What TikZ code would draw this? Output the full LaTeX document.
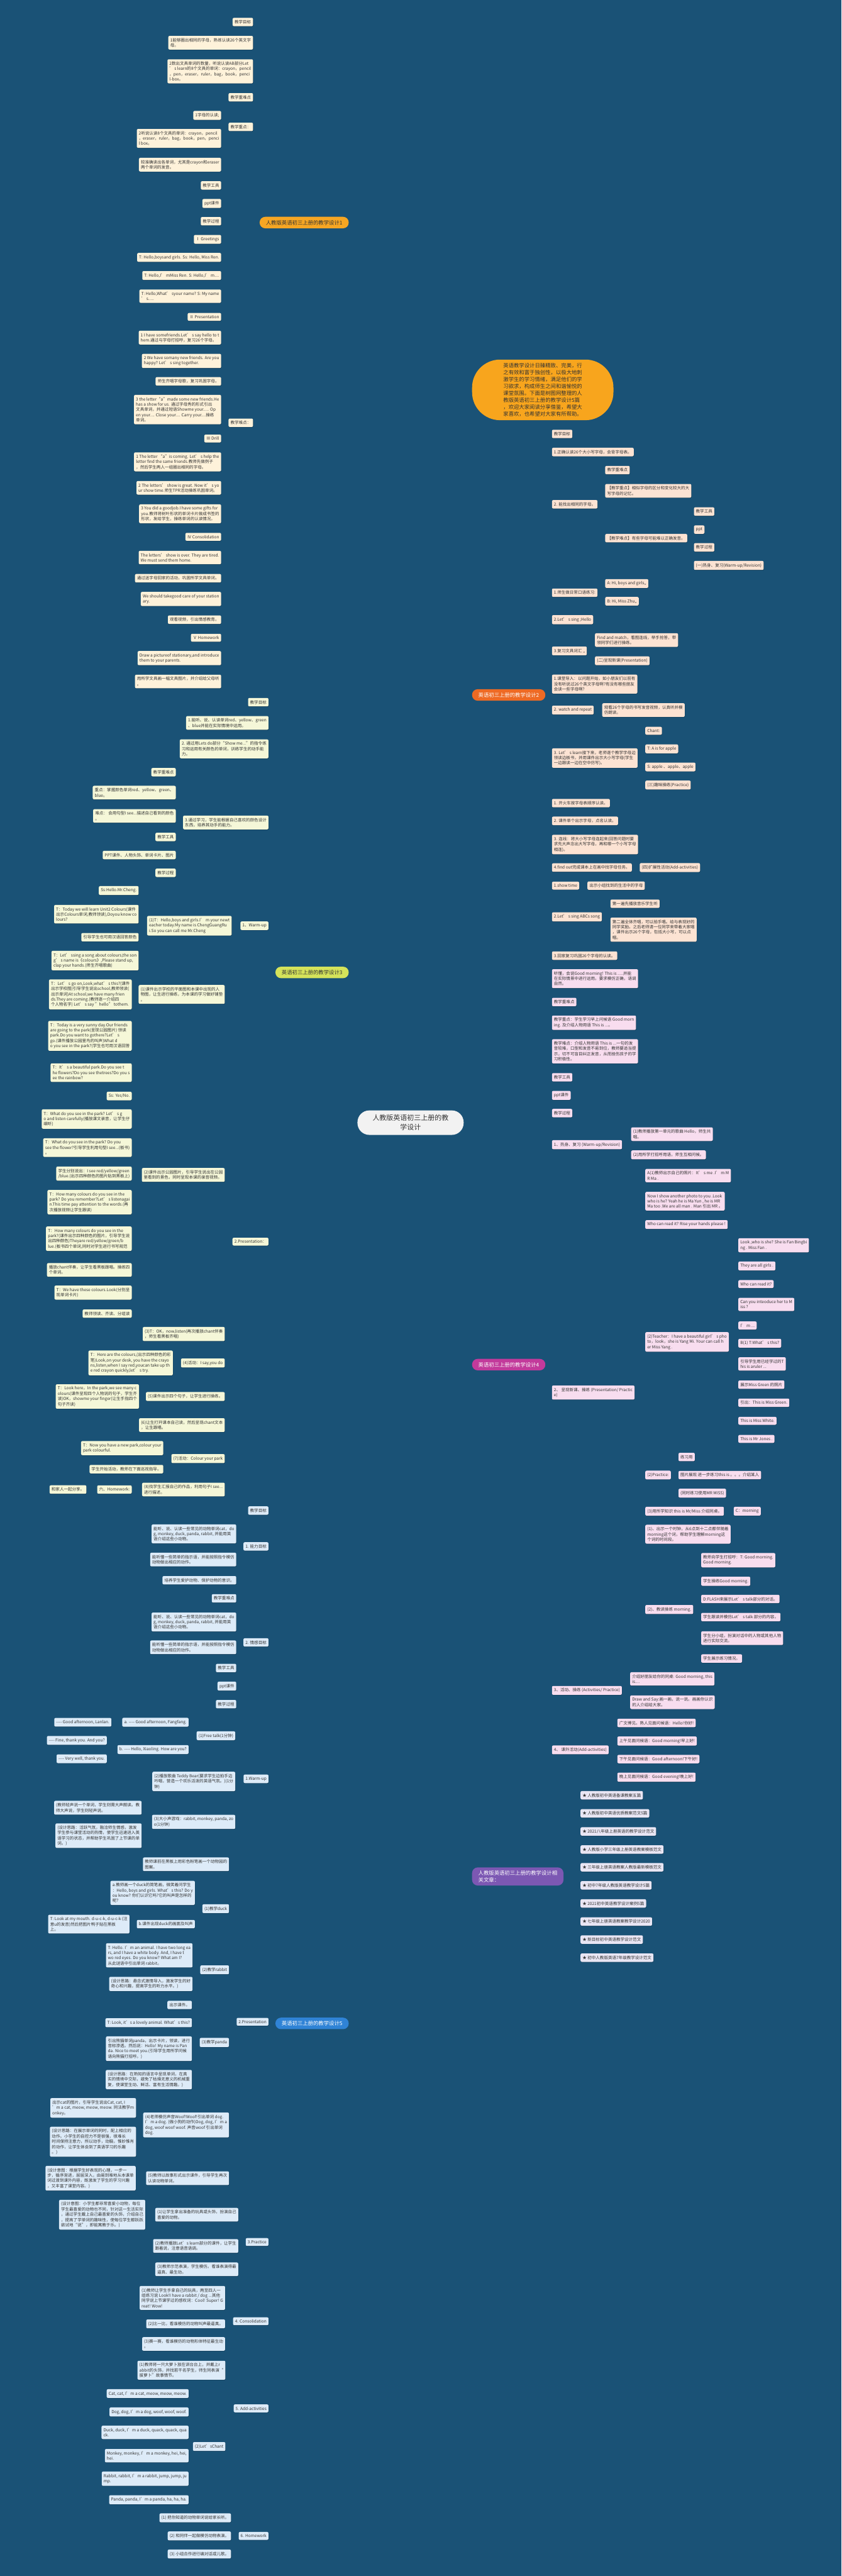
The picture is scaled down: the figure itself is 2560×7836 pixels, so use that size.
\documentclass[tikz,border=0pt]{standalone}
\usepackage{fontspec}
\setmainfont{Noto Sans CJK SC}
\usetikzlibrary{shadows}
\pgfdeclarelayer{bg}
\pgfsetlayers{bg,main}
\definecolor{bgc}{HTML}{1A5276}
\definecolor{txtc}{HTML}{333333}
\definecolor{ctrc}{HTML}{F2F2F2}
\definecolor{dscc}{HTML}{F8A51D}
\definecolor{g0}{HTML}{E9BA3C}
\definecolor{r1}{HTML}{F6A623}\definecolor{g1}{HTML}{EBB134}\definecolor{f1}{HTML}{FEF2DA}
\definecolor{r2}{HTML}{EE6A24}\definecolor{g2}{HTML}{E8692A}\definecolor{f2}{HTML}{FCE3D3}
\definecolor{r3}{HTML}{D5E35A}\definecolor{g3}{HTML}{C8DC4C}\definecolor{f3}{HTML}{F5F7D8}
\definecolor{r4}{HTML}{C23A9B}\definecolor{g4}{HTML}{C03A9D}\definecolor{f4}{HTML}{F8DDEF}
\definecolor{r5}{HTML}{2F83D6}\definecolor{g5}{HTML}{3B8EDC}\definecolor{f5}{HTML}{DDEBF8}
\definecolor{r6}{HTML}{7C58B3}\definecolor{g6}{HTML}{8260BA}\definecolor{f6}{HTML}{E9E6F4}
\newcommand\lffont{\fontsize{12.5}{16}\selectfont}
\newcommand\hbfont{\fontsize{16}{20}\selectfont}
\tikzset{
  leaf/.style={rounded corners=4pt, inner xsep=6pt, inner ysep=7pt, align=left, font=\lffont, text=txtc,
    drop shadow={shadow xshift=0.8pt, shadow yshift=-1.4pt, opacity=0.25, fill=black}},
  le/.style={anchor=east}, ri/.style={anchor=west},
  k1/.style={leaf, fill=f1}, k2/.style={leaf, fill=f2}, k3/.style={leaf, fill=f3},
  k4/.style={leaf, fill=f4}, k5/.style={leaf, fill=f5}, k6/.style={leaf, fill=f6},
  hub/.style={rounded corners=17pt, inner xsep=19pt, inner ysep=10pt, font=\hbfont, align=left},
  ctr/.style={fill=ctrc, text=txtc, rounded corners=36pt, inner xsep=46pt, inner ysep=13pt, align=center, font=\fontsize{21}{29}\selectfont},
  dsc/.style={fill=dscc, text=txtc, rounded corners=85pt, inner xsep=95pt, inner ysep=11pt, align=left, font=\fontsize{16}{21}\selectfont},
  w1/.style={draw=g1, line width=1.6pt, rounded corners=7pt},
  w2/.style={draw=g2, line width=1.6pt, rounded corners=7pt},
  w3/.style={draw=g3, line width=1.6pt, rounded corners=7pt},
  w4/.style={draw=g4, line width=1.6pt, rounded corners=7pt},
  w5/.style={draw=g5, line width=1.6pt, rounded corners=7pt},
  w6/.style={draw=g6, line width=1.6pt, rounded corners=7pt},
  mc/.style={line width=3pt}
}
\begin{document}
\begin{tikzpicture}[x=1pt,y=-1pt]
\fill[bgc] (0,0) rectangle (2560,7836);
\useasboundingbox (0,0) rectangle (2560,7836);

\node[ctr] (c) at (1249,3415) {人教版英语初三上册的教\\学设计};
\node[dsc,ri] (ds) at (1436,1186) {英语教学设计日臻精致、完美，行\\之有效和富于独创性，以极大地刺\\激学生的学习情绪，满足他们的学\\习欲求，构成师生之间和谐愉悦的\\课堂氛围。下面是树图网整理的人\\教版英语初三上册的教学设计5篇\\，欢迎大家阅读分享借鉴，希望大\\家喜欢，也希望对大家有所帮助。};

% 设计1
\node[hub,fill=r1,text=txtc,le] (d1) at (1061,677) {人教版英语初三上册的教学设计1};
\node[k1,le] (d1a) at (770,67) {教学目标};
\node[k1,le] (d1b) at (770,130) {1能够圈出相同的字母，熟练认读26个英文字\\母。};
\node[k1,le] (d1c) at (770,217) {2数出文具单词的数量，听说认读AB部分Let\\’ s learn的8个文具的单词：crayon，pencil\\，pen，eraser，ruler，bag，book，penci\\l-box。};
\node[k1,le] (d1d) at (770,296) {教学重难点};
\node[k1,le] (d1e) at (770,386) {教学重点：};
\node[k1,le] (d1f) at (770,1286) {教学难点：};
\node[k1,le] (d1ea) at (673,351) {1字母的认读;};
\node[k1,le] (d1eb) at (673,421) {2听说认读8个文具的单词：crayon，pencil\\，eraser，ruler，bag，book，pen，penci\\l box。};
\node[k1,le] (d1fa) at (673,501) {较准确读出各单词，尤其是crayon和eraser\\两个单词的发音。};
\node[k1,le] (d1fb) at (673,564) {教学工具};
\node[k1,le] (d1fc) at (673,619) {ppt课件};
\node[k1,le] (d1fd) at (673,673) {教学过程};
\node[k1,le] (d1fe) at (673,728) {Ⅰ Greetings};
\node[k1,le] (d1ff) at (673,783) {T: Hello,boysand girls. Ss: Hello, Miss Ren.};
\node[k1,le] (d1fg) at (673,838) {T: Hello,I’ mMiss Ren. S: Hello,I’ m....};
\node[k1,le] (d1fh) at (673,901) {T: Hello,What’ syour name? S: My name\\’ s.....};
\node[k1,le] (d1fi) at (673,964) {Ⅱ Presentation};
\node[k1,le] (d1fj) at (673,1027) {1 I have somefriends.Let’ s say hello to t\\hem.通过与字母打招呼，复习26个字母。};
\node[k1,le] (d1fk) at (673,1098) {2 We have somany new friends. Are you\\happy? Let’ s sing together.};
\node[k1,le] (d1fl) at (673,1160) {师生齐唱字母歌，复习巩固字母。};
\node[k1,le] (d1fm) at (673,1246) {3 the letter“a”made some new friends.He\\has a show for us. 通过字母秀的形式引出\\文具单词，并通过短语Showme your..... Op\\en your.... Close your.... Carry your....操练\\单词。};
\node[k1,le] (d1fn) at (673,1334) {Ⅲ Drill};
\node[k1,le] (d1fo) at (673,1405) {1 The letter “a”is coming. Let’ s help the\\letter find the same friends.教师先做例子\\，然后学生两人一组圈出相同的字母。};
\node[k1,le] (d1fp) at (673,1484) {2 The letters’ show is great. Now it’ s yo\\ur show time.师生TPR活动操练巩固单词。};
\node[k1,le] (d1fq) at (673,1563) {3 You did a goodjob.I have some gifts for\\you.教师将树叶形状的单词卡片做成书签的\\形状，发给学生，操练单词的认读情况。};
\node[k1,le] (d1fr) at (673,1633) {Ⅳ Consolidation};
\node[k1,le] (d1fs) at (673,1696) {The letters’ show is over. They are tired.\\We must send them home.};
\node[k1,le] (d1ft) at (673,1759) {通过送字母回家的活动，巩固所学文具单词。};
\node[k1,le] (d1fu) at (673,1822) {We should takegood care of your station\\ary.};
\node[k1,le] (d1fv) at (673,1885) {观看视频，引出情感教育。};
\node[k1,le] (d1fw) at (673,1940) {Ⅴ Homework};
\node[k1,le] (d1fx) at (673,2002) {Draw a pictureof stationary,and introduce\\them to your parents.};
\node[k1,le] (d1fy) at (673,2073) {用所学文具画一幅文具图片，并介绍给父母听\\。};

% 设计2
\node[hub,fill=r2,text=white,ri] (d2) at (1436,2114) {英语初三上册的教学设计2};
\node[k2,ri] (d2a) at (1679,1320) {教学目标};
\node[k2,ri] (d2b) at (1679,1375) {1.正确认读26个大小写字母，会背字母表。};
\node[k2,ri] (d2c) at (1679,1534) {2. 能找出相同的字母。};
\node[k2,ri] (d2ca) at (1841,1430) {教学重难点};
\node[k2,ri] (d2cb) at (1841,1493) {【教学重点】相似字母的区分和变化较大的大\\写字母的记忆。};
\node[k2,ri] (d2cc) at (1841,1637) {【教学难点】有些字母可能难以正确发音。};
\node[k2,ri] (d2cca) at (2111,1556) {教学工具};
\node[k2,ri] (d2ccb) at (2111,1611) {ppt};
\node[k2,ri] (d2ccc) at (2111,1665) {教学过程};
\node[k2,ri] (d2ccd) at (2111,1720) {(一)热身、复习(Warm-up/Revision)};
\node[k2,ri] (d2d) at (1679,1803) {1.师生做日常口语练习:};
\node[k2,ri] (d2da) at (1841,1775) {A: Hi, boys and girls,,};
\node[k2,ri] (d2db) at (1841,1829) {B: Hi, Miss Zhu,,};
\node[k2,ri] (d2e) at (1679,1885) {2.Let’ s sing ;Hello};
\node[k2,ri] (d2f) at (1679,1980) {3.复习文具词汇 ,,};
\node[k2,ri] (d2fa) at (1810,1947) {Find and match，看图连线，举手抢答，带\\领同学们进行操练。};
\node[k2,ri] (d2fb) at (1810,2010) {(二)呈现新课(Presentation)};
\node[k2,ri] (d2g) at (1679,2081) {1.课堂导入：以问题开始，如小朋友们以前有\\没有听说过26个英文字母啊?有没有哪些朋友\\会读一些字母啊?};
\node[k2,ri] (d2h) at (1679,2160) {2. watch and repeat};
\node[k2,ri] (d2ha) at (1832,2160) {观看26个字母的书写发音视频，认真听并模\\仿朗读。};
\node[k2,ri] (d2i) at (1679,2306) {3. Let’ s learn接下来，老师逐个教学字母边\\领读边板书，并用课件出示大小写字母(学生\\一边跟读一边在空中仿写)。};
\node[k2,ri] (d2ia) at (1963,2223) {Chant:};
\node[k2,ri] (d2ib) at (1963,2278) {T: A is for apple};
\node[k2,ri] (d2ic) at (1963,2333) {S: apple 、apple、apple};
\node[k2,ri] (d2id) at (1963,2388) {(三)趣味操练(Practice)};
\node[k2,ri] (d2j) at (1679,2443) {1. 开火车按字母表顺序认读。};
\node[k2,ri] (d2k) at (1679,2497) {2. 课件单个出示字母，点名认读。};
\node[k2,ri] (d2l) at (1679,2569) {3. 连线：将大小写字母连起来(回答问题时要\\求先大声念出大写字母，再和哪一个小写字母\\相连)。};
\node[k2,ri] (d2m) at (1679,2639) {4.find out完成课本上在画中找字母任务。};
\node[k2,ri] (d2ma) at (1946,2639) {(四)扩展性活动(Add-activities)};
\node[k2,ri] (d2n) at (1679,2694) {1.show time};
\node[k2,ri] (d2na) at (1787,2694) {出示小组找到的生活中的字母};
\node[k2,ri] (d2o) at (1679,2789) {2.Let’ s sing ABCs song};
\node[k2,ri] (d2oa) at (1857,2749) {第一遍先播放音乐学生听};
\node[k2,ri] (d2ob) at (1857,2828) {第二遍全体齐唱，可以拍手唱。给与表现好的\\同学奖励。之后老师请一位同学来带着大家唱\\，课件出示26个字母，包括大小写，可以点\\唱。};
\node[k2,ri] (d2p) at (1679,2907) {3.回家复习巩固26个字母的认读。};

% 设计3
\node[hub,fill=r3,text=txtc,le] (d3) at (1061,2958) {英语初三上册的教学设计3};
\node[k3,le] (d3a) at (817,2136) {教学目标};
\node[k3,le] (d3b) at (817,2199) {1.能听、说、认读单词red、yellow、green\\、blue并能在实际情境中运用。};
\node[k3,le] (d3c) at (817,2278) {2. 通过用Lets do部分“Show me...”的指令练\\习和运用有关颜色的单词，训练学生的动手能\\力。};
\node[k3,le] (d3d) at (817,2502) {3.通过学习，学生能根据自己喜欢的颜色设计\\东西，培养其动手的能力。};
\node[k3,le] (d3da) at (535,2349) {教学重难点};
\node[k3,le] (d3db) at (535,2411) {重点：掌握颜色单词red、yellow、green、\\blue。};
\node[k3,le] (d3dc) at (535,2482) {难点： 会用句型I see...描述自己看到的颜色\\。};
\node[k3,le] (d3dd) at (535,2546) {教学工具};
\node[k3,le] (d3de) at (535,2601) {PPT课件、人物头饰、单词卡片、图片};
\node[k3,le] (d3df) at (535,2655) {教学过程};
\node[k3,le] (d3e) at (817,2816) {1、Warm-up};
\node[k3,le] (d3ea) at (705,2816) {(1)T：Hello,boys and girls.I’ m your newt\\eacher today.My name is ChengGuangRu\\i.So you can call me Mr.Cheng};
\node[k3,le] (d3eaa) at (422,2709) {Ss:Hello.Mr.Cheng.};
\node[k3,le] (d3eab) at (422,2781) {T：Today we will learn Unit2 Colours(课件\\出示Colours单词,教师领读),Doyou know co\\lours?};
\node[k3,le] (d3eac) at (422,2851) {引导学生也可用汉语回答颜色};
\node[k3,le] (d3ead) at (422,2922) {T：Let’ ssing a song about colours,the son\\g’ s name is《colours》,Please stand up,\\clap your hands.(师生齐唱歌曲)};
\node[k3,le] (d3f) at (817,3777) {2.Presentation：};
\node[k3,le] (d3fa) at (684,3025) {(1)课件出示学校的平面图和本课中出现的人\\物图，让生进行操练，为本课的学习做好铺垫\\。};
\node[k3,le] (d3faa) at (401,3025) {T：Let’ s go on,Look,what’ s this?(课件\\出示学校图)引导学生说出school,教师领读(\\出示单词)At school,we have many frien\\ds.They are coming.(教师逐一介绍四\\个人物名字) Let’ s say "hello" tothem.};
\node[k3,le] (d3fb) at (684,3574) {(2)课件出示公园图片，引导学生说出在公园\\里看到的景色，同时呈现本课的录音视频。};
\node[k3,le] (d3fba) at (401,3151) {T：Today is a very sunny day.Our friends\\are going to the park(呈现公园图片) 领读\\park.Do you want to gothere?Let’ s\\go.(课件播放公园里鸟的叫声)What d\\o you see in the park?(学生也可用汉语回答};
\node[k3,le] (d3fbb) at (401,3263) {T：It’ s a beautiful park.Do you see t\\he flowers?Do you see thetrees?Do you s\\ee the rainbow?};
\node[k3,le] (d3fbc) at (401,3334) {Ss: Yes/No.};
\node[k3,le] (d3fbd) at (401,3404) {T：What do you see in the park? Let’ s g\\o and listen carefully(播放课文录音，让学生仔\\细听)};
\node[k3,le] (d3fbe) at (401,3491) {T：What do you see in the park? Do you\\see the flower?引导学生利用句型I see...(板书)\\。};
\node[k3,le] (d3fbf) at (401,3570) {学生分别说出：I see red/yellow/green\\/blue.(出示四种颜色的图片贴到黑板上)};
\node[k3,le] (d3fbg) at (401,3657) {T：How many colours do you see in the\\park? Do you remember?Let’ s listenagai\\n.This time pay attention to the words.(再\\次播放视频让学生跟读)};
\node[k3,le] (d3fbh) at (401,3768) {T：How many colours do you see in the\\park?(课件出示四种颜色的图片，引导学生说\\出四种颜色)Theyare red/yellow/green/b\\lue.(板书四个单词,同时对学生进行书写规范};
\node[k3,le] (d3fbi) at (401,3863) {播放chant伴奏，让学生看黑板跟唱。操练四\\个单词。};
\node[k3,le] (d3fbj) at (401,3932) {T：We have these colours.Look(分别呈\\现单词卡片)};
\node[k3,le] (d3fbk) at (401,3996) {教师领读、齐读、分组读};
\node[k3,le] (d3fc) at (684,4058) {(3)T：OK，now,listen(再次播放chant伴奏\\，师生看黑板齐唱)};
\node[k3,le] (d3fd) at (684,4146) {(4)活动：I say,you do};
\node[k3,le] (d3fda) at (526,4146) {T：Here are the colours,(出示四种颜色的彩\\笔)Look,on your desk, you have the crayo\\ns,listen,when I say red,youcan take up th\\e red crayon quickly,let’ s try.};
\node[k3,le] (d3fe) at (684,4248) {(5)课件出示四个句子，让学生进行操练。};
\node[k3,le] (d3fea) at (423,4248) {T：Look here，In the park,we see many c\\olours(课件呈现四个人物说的句子，学生齐\\读)OK，showme your finger(让生手指四个\\句子齐读)};
\node[k3,le] (d3ff) at (684,4335) {(6)让生打开课本自己读，然后呈现chant文本\\，让生跟唱。};
\node[k3,le] (d3fg) at (684,4437) {(7)活动：Colour your park};
\node[k3,le] (d3fga) at (497,4405) {T：Now you have a new park,colour your\\park colourful.};
\node[k3,le] (d3fgb) at (497,4469) {学生开始活动，教师在下面巡视指导。};
\node[k3,le] (d3fh) at (684,4531) {(8)找学生汇报自己的作品，利用句子I see...\\进行描述。};
\node[k3,le] (d3fha) at (401,4531) {六、Homework:};
\node[k3,le] (d3fhb) at (263,4531) {和家人一起分享。};

% 设计4
\node[hub,fill=r4,text=white,ri] (d4) at (1436,4151) {英语初三上册的教学设计4};
\node[k4,ri] (d4a) at (1679,2977) {听懂，会说Good morning! This is .....并能\\在实际情景中进行运用。要求模仿正确，语调\\自然。};
\node[k4,ri] (d4b) at (1679,3048) {教学重难点};
\node[k4,ri] (d4c) at (1679,3111) {教学重点：学生学习早上问候语 Good morn\\ing. 及介绍人物用语 This is ...。};
\node[k4,ri] (d4d) at (1679,3198) {教学难点：介绍人物用语 This is ...一句的发\\音较难，口型和发音不易到位，教师要适当提\\示，切不可盲目纠正发音，从而挫伤孩子的学\\习积极性。};
\node[k4,ri] (d4e) at (1679,3277) {教学工具};
\node[k4,ri] (d4f) at (1679,3332) {ppt课件};
\node[k4,ri] (d4g) at (1679,3386) {教学过程};
\node[k4,ri] (d4h) at (1679,3482) {1、热身、复习 (Warm-up/Revision)};
\node[k4,ri] (d4ha) at (1920,3450) {(1)教师播放第一单元的歌曲 Hello，师生共\\唱。};
\node[k4,ri] (d4hb) at (1920,3513) {(2)用所学打招呼用语，师生互相问候。};
\node[k4,ri] (d4i) at (1679,4236) {2、 呈现新课、操练 (Presentation/ Practic\\e)};
\node[k4,ri] (d4ia) at (1963,3576) {A(1)教师出示自己的照片：It’ s me .I’ m M\\R Ma .};
\node[k4,ri] (d4ib) at (1963,3654) {Now I show another photo to you .Look\\who is he? Yeah he is Ma Yun , he is MR\\Ma too .We are all man . Man 引出 MR 。};
\node[k4,ri] (d4ic) at (1963,3725) {Who can read it? Rise your hands please !};
\node[k4,ri] (d4id) at (1963,4082) {(2)Teacher：I have a beautiful girl’ s pho\\to，look，she is Yang Mi. Your can call h\\er Miss Yang .};
\node[k4,ri] (d4ida) at (2246,3788) {Look ,who is she? She is Fan Bingbi\\ng . Miss Fan .};
\node[k4,ri] (d4idb) at (2246,3851) {They are all girls .};
\node[k4,ri] (d4idc) at (2246,3906) {Who can read it?};
\node[k4,ri] (d4idd) at (2246,3968) {Can you inteoduce her to M\\iss ?};
\node[k4,ri] (d4ide) at (2246,4032) {I’ m ...};
\node[k4,ri] (d4idf) at (2246,4086) {B(1) T:What’ s this?};
\node[k4,ri] (d4idg) at (2246,4149) {引导学生用已经学过的T\\his is aruler ...};
\node[k4,ri] (d4idh) at (2246,4212) {展示Miss Green 的照片};
\node[k4,ri] (d4idi) at (2246,4267) {引出：This is Miss Green.};
\node[k4,ri] (d4idj) at (2246,4322) {This is Miss White.};
\node[k4,ri] (d4idk) at (2246,4377) {This is Mr Jones .};
\node[k4,ri] (d4ie) at (1963,4487) {(2)Practice:};
\node[k4,ri] (d4iea) at (2064,4432) {练习用};
\node[k4,ri] (d4ieb) at (2064,4487) {图片展现 进一步练习this is 。。。介绍某人};
\node[k4,ri] (d4iec) at (2064,4542) {(同时练习使用MR MISS)};
\node[k4,ri] (d4if) at (1963,4597) {(3)用所学知识 this is Mr/Miss 介绍同桌。};
\node[k4,ri] (d4ifa) at (2232,4597) {C：morning};
\node[k4,ri] (d4ig) at (1963,4667) {(1)、出示一个时钟，从6点到十二点都伴随着\\morning这个词，帮助学生理解morning这\\个词的时间段。};
\node[k4,ri] (d4ih) at (1963,4896) {(2)、教读操练 morning.};
\node[k4,ri] (d4iha) at (2133,4746) {教师向学生打招呼：T: Good morning.\\Good morning.};
\node[k4,ri] (d4ihb) at (2133,4810) {学生操练Good morning.};
\node[k4,ri] (d4ihc) at (2133,4864) {D:FLASH来展示Let’ s talk部分的对话。};
\node[k4,ri] (d4ihd) at (2133,4919) {学生跟读并模仿Let’ s talk 部分的内容。};
\node[k4,ri] (d4ihe) at (2133,4983) {学生分小组，扮演对话中的人物或其他人物\\进行实际交流。};
\node[k4,ri] (d4ihf) at (2133,5045) {学生展示练习情况。};
\node[k4,ri] (d4j) at (1679,5142) {3、活动、操练 (Activities/ Practice)};
\node[k4,ri] (d4ja) at (1917,5107) {介绍好朋友给你的同桌: Good morning, this\\is....};
\node[k4,ri] (d4jb) at (1917,5178) {Draw and Say:画一画，说一说。画画你认识\\的人介绍给大家。};
\node[k4,ri] (d4k) at (1679,5323) {4、 课外活动(Add-activities)};
\node[k4,ri] (d4ka) at (1878,5241) {广文博见。熟人见面问候语：Hello!你好!};
\node[k4,ri] (d4kb) at (1878,5296) {上午见面问候语：Good morning!早上好!};
\node[k4,ri] (d4kc) at (1878,5351) {下午见面问候语：Good afternoon!下午好!};
\node[k4,ri] (d4kd) at (1878,5406) {晚上见面问候语：Good evening!晚上好!};

% 相关文章
\node[hub,fill=r6,text=white,ri] (rl) at (1436,5708) {人教版英语初三上册的教学设计相\\关文章：};
\node[k6,ri] (rla) at (1766,5461) {★ 人教版初中英语备课教案五篇};
\node[k6,ri] (rlb) at (1766,5516) {★ 人教版初中英语优质教案范文5篇};
\node[k6,ri] (rlc) at (1766,5571) {★ 2021八年级上册英语的教学设计范文};
\node[k6,ri] (rld) at (1766,5626) {★ 人教版小学三年级上册英语教案模板范文};
\node[k6,ri] (rle) at (1766,5680) {★ 三年级上册英语教案人教版最新模板范文};
\node[k6,ri] (rlf) at (1766,5735) {★ 初中7年级人教版英语教学设计5篇};
\node[k6,ri] (rlg) at (1766,5790) {★ 2021初中英语教学设计案例5篇};
\node[k6,ri] (rlh) at (1766,5845) {★ 七年级上册英语教案教学设计2020};
\node[k6,ri] (rli) at (1766,5900) {★ 新目标初中英语教学设计范文};
\node[k6,ri] (rlj) at (1766,5955) {★ 初中人教版英语7年级教学设计范文};

% 设计5
\node[hub,fill=r5,text=white,le] (d5) at (1061,6155) {英语初三上册的教学设计5};
\node[k5,le] (d5a) at (817,4595) {教学目标};
\node[k5,le] (d5b) at (817,4704) {1. 能力目标};
\node[k5,le] (d5ba) at (719,4666) {能听、说、认读一些常见的动物单词cat，do\\g, monkey, duck, panda, rabbit, 并能用英\\语介绍这些小动物。};
\node[k5,le] (d5bb) at (719,4744) {能听懂一些简单的指示语，并能按照指令模仿\\动物做出相应的动作。};
\node[k5,le] (d5c) at (817,4996) {2. 情感目标};
\node[k5,le] (d5ca) at (719,4807) {培养学生爱护动物、保护动物的意识。};
\node[k5,le] (d5cb) at (719,4862) {教学重难点};
\node[k5,le] (d5cc) at (719,4934) {能听、说、认读一些常见的动物单词cat，do\\g, monkey, duck, panda, rabbit, 并能用英\\语介绍这些小动物。};
\node[k5,le] (d5cd) at (719,5011) {能听懂一些简单的指示语，并能按照指令模仿\\动物做出相应的动作。};
\node[k5,le] (d5ce) at (719,5074) {教学工具};
\node[k5,le] (d5cf) at (719,5129) {ppt课件};
\node[k5,le] (d5cg) at (719,5184) {教学过程};
\node[k5,le] (d5d) at (817,5411) {1.Warm-up};
\node[k5,le] (d5da) at (716,5280) {(1)Free talk(1分钟)};
\node[k5,le] (d5daa) at (574,5239) {a. -{}-{}-{}- Good afternoon, Fangfang.};
\node[k5,le] (d5daaa) at (339,5239) {-{}-{}-{}- Good afternoon, Lanlan.};
\node[k5,le] (d5dab) at (574,5322) {b. -{}-{}-{}- Hello, Xiaoling. How are you?};
\node[k5,le] (d5daba) at (325,5294) {-{}-{}-{}- Fine, thank you. And you?};
\node[k5,le] (d5dabb) at (325,5350) {-{}-{}-{}- Very well, thank you.};
\node[k5,le] (d5db) at (716,5419) {(2)播放歌曲 Teddy Bear(要求学生边拍手边\\吟唱，营造一个欢乐活泼的英语气氛。)(1分\\钟)};
\node[k5,le] (d5dc) at (716,5542) {(3)大小声游戏：rabbit, monkey, panda, zo\\o(1分钟)};
\node[k5,le] (d5dca) at (431,5499) {(教师轻声说一个单词，学生则需大声朗读。教\\师大声说，学生则轻声说。};
\node[k5,le] (d5dcb) at (431,5584) {(设计思路：活跃气氛，融洽师生情感，激发\\学生参与课堂活动的热情，使学生迅速进入英\\语学习的状态，并帮助学生巩固了上节课的单\\词。)};
\node[k5,le] (d5e) at (817,6150) {2.Presentation};
\node[k5,le] (d5ea) at (697,5671) {教师课前在黑板上用彩色粉笔画一个动物园的\\图案。};
\node[k5,le] (d5eb) at (697,5806) {(1)教学duck};
\node[k5,le] (d5eba) at (593,5758) {a.教师画一个duck的简笔画，微笑着问学生\\：Hello, boys and girls. What's this? Do y\\ou know? 你们认识它吗?它的叫声是怎样的\\呢?};
\node[k5,le] (d5ebb) at (593,5853) {b.课件出现duck的画面及叫声};
\node[k5,le] (d5ebba) at (394,5853) {T: Look at my mouth. d-u-c-k, d-u-c-k (注\\意u的发音)然后把图片鸭子贴在黑板\\上。};
\node[k5,le] (d5ec) at (697,5992) {(2)教学rabbit};
\node[k5,le] (d5eca) at (586,5948) {T: Hello. I'm an animal. I have two long ea\\rs, and I have a white body. And, I have t\\wo red eyes. Do you know? What am I?\\从此谜语中引出单词 rabbit。};
\node[k5,le] (d5ecb) at (586,6035) {(设计思路：悬念式激情导入，激发学生的好\\奇心和兴趣，提高学生的听力水平。)};
\node[k5,le] (d5ed) at (697,6213) {(3)教学panda};
\node[k5,le] (d5eda) at (584,6099) {出示课件。};
\node[k5,le] (d5edb) at (584,6153) {T: Look, it's a lovely animal. What's this?};
\node[k5,le] (d5edc) at (584,6232) {引出熊猫单词panda，出示卡片，领读，进行\\音标渗透。然后说：Hello! My name is Pan\\da. Nice to meet you.(引导学生用所学问候\\语向熊猫打招呼。)};
\node[k5,le] (d5edd) at (584,6326) {(设计思路：在熟知的语言中呈现单词，在真\\实的情境中交际，避免了枯燥无意义的机械重\\复，使课堂生动、鲜活、富有生活情趣。)};
\node[k5,le] (d5ee) at (697,6464) {(4)老师模仿声音Woof!Woof!引出单词 dog.\\I'm a dog. (做小狗的动作)Dog, dog, I'm a\\dog, woof woof woof. 声音woof 引出单词\\dog.};
\node[k5,le] (d5eea) at (414,6412) {出示cat的图片，引导学生说出Cat, cat, I\\'m a cat, meow, meow, meow. 同法教学m\\onkey。};
\node[k5,le] (d5eeb) at (414,6515) {(设计思路：在展示单词的同时，配上相应的\\动作。小学生的自控力不是很强，很难长\\时间保持注意力，所以动手，动脑，惟妙惟肖\\的动作，让学生体会到了英语学习的乐趣\\。)};
\node[k5,le] (d5ef) at (697,6626) {(5)教师以故事形式出示课件，引导学生再次\\认读动物单词。};
\node[k5,le] (d5efa) at (413,6626) {(设计意图：根据学生好表现的心理，一步一\\步，循序渐进，层层深入，由易到难地从本课单\\词过渡到课外内容，既激发了学生的学习兴趣\\，又丰富了课堂内容。)};
\node[k5,le] (d5f) at (817,6820) {3.Practice};
\node[k5,le] (d5fa) at (725,6737) {(1)让学生拿出准备的玩具或头饰，扮演自己\\喜爱的动物。};
\node[k5,le] (d5faa) at (442,6737) {(设计意图：小学生都非常喜爱小动物，每位\\学生最喜爱的动物也不同，针对这一生活实际\\，通过学生戴上自己最喜爱的头饰，介绍自己\\，提高了学单词的趣味性，使每位学生都跃跃\\欲试地“说”，即能寓教于乐。)};
\node[k5,le] (d5fb) at (725,6832) {(2)教师播放Let's learn部分的课件，让学生\\跟着说，注意语音语调。};
\node[k5,le] (d5fc) at (725,6903) {(3)教师示范表演，学生模仿。看谁表演得最\\逼真、最生动。};
\node[k5,le] (d5g) at (817,7061) {4. Consolidation};
\node[k5,le] (d5ga) at (685,6990) {(1)教师让学生手拿自己的玩具，两至四人一\\组练习说 Look!I have a rabbit / dog ...其他\\同学说上节课学过的感叹词：Cool! Super! G\\reat! Wow!};
\node[k5,le] (d5gb) at (685,7069) {(2)比一比，看谁模仿的动物叫声最逼真。};
\node[k5,le] (d5gc) at (685,7130) {(3)赛一赛，看谁模仿的动物形体特征最生动\\。};
\node[k5,le] (d5h) at (817,7326) {5. Add-activities};
\node[k5,le] (d5ha) at (686,7210) {(1)教师将一只大萝卜放在讲台台上，并戴上r\\abbit的头饰，并找若干名学生，师生同表演“\\拔萝卜”故事情节。};
\node[k5,le] (d5hb) at (686,7442) {(2)Let'sChant};
\node[k5,le] (d5hba) at (574,7281) {Cat, cat, I'm a cat, meow, meow, meow.};
\node[k5,le] (d5hbb) at (574,7337) {Dog, dog, I'm a dog, woof, woof, woof.};
\node[k5,le] (d5hbc) at (574,7399) {Duck, duck, I'm a duck, quack, quack, qua\\ck.};
\node[k5,le] (d5hbd) at (574,7470) {Monkey, monkey, I'm a monkey, hei, hei,\\hei.};
\node[k5,le] (d5hbe) at (574,7540) {Rabbit, rabbit, I'm a rabbit, jump, jump, ju\\mp.};
\node[k5,le] (d5hbf) at (574,7604) {Panda, panda, I'm a panda, ha, ha, ha.};
\node[k5,le] (d5i) at (817,7714) {6. Homework};
\node[k5,le] (d5ia) at (703,7659) {(1) 把你知道的动物单词说给家长听。};
\node[k5,le] (d5ib) at (703,7714) {(2) 和同伴一起做模仿动物表演。};
\node[k5,le] (d5ic) at (703,7769) {(3) 小组合作进行编对话或儿歌。};

\begin{pgfonlayer}{bg}
\draw[mc,g1] (c.center) .. controls (1249,1500) and (1200,677) .. (d1.east);
\draw[mc,g0] (c.center) .. controls (1249,2000) and (1290,1186) .. (ds.west);
\draw[mc,g2] (c.center) .. controls (1249,2600) and (1300,2114) .. (d2.west);
\draw[mc,g3] (c.center) .. controls (1249,3150) and (1150,2958) .. (d3.east);
\draw[mc,g4] (c.center) .. controls (1249,3900) and (1300,4151) .. (d4.west);
\draw[mc,g6] (c.center) .. controls (1249,5200) and (1300,5708) .. (rl.west);
\draw[mc,g5] (c.center) .. controls (1249,5000) and (1200,6155) .. (d5.east);

\foreach \k in {d1a,d1b,d1c,d1d,d1e,d1f} \draw[w1] (\k.east) -- ++(10,0) |- (d1.west);
\foreach \k in {d1ea,d1eb} \draw[w1] (\k.east) -- ++(11,0) |- (d1e.west);
\foreach \k in {d1fa,d1fb,d1fc,d1fd,d1fe,d1ff,d1fg,d1fh,d1fi,d1fj,d1fk,d1fl,d1fm,d1fn,d1fo,d1fp,d1fq,d1fr,d1fs,d1ft,d1fu,d1fv,d1fw,d1fx,d1fy} \draw[w1] (\k.east) -- ++(11,0) |- (d1f.west);

\foreach \k in {d2a,d2b,d2c,d2d,d2e,d2f,d2g,d2h,d2i,d2j,d2k,d2l,d2m,d2n,d2o,d2p} \draw[w2] (\k.west) -- ++(-10,0) |- (d2.east);
\foreach \k in {d2ca,d2cb,d2cc} \draw[w2] (\k.west) -- ++(-12,0) |- (d2c.east);
\foreach \k in {d2cca,d2ccb,d2ccc,d2ccd} \draw[w2] (\k.west) -- ++(-11,0) |- (d2cc.east);
\foreach \k in {d2da,d2db} \draw[w2] (\k.west) -- ++(-12,0) |- (d2d.east);
\foreach \k in {d2fa,d2fb} \draw[w2] (\k.west) -- ++(-11,0) |- (d2f.east);
\draw[w2] (d2ha.west) -- (d2h.east);
\foreach \k in {d2ia,d2ib,d2ic,d2id} \draw[w2] (\k.west) -- ++(-12,0) |- (d2i.east);
\draw[w2] (d2ma.west) -- (d2m.east);
\draw[w2] (d2na.west) -- (d2n.east);
\foreach \k in {d2oa,d2ob} \draw[w2] (\k.west) -- ++(-12,0) |- (d2o.east);

\foreach \k in {d3a,d3b,d3c,d3d,d3e,d3f} \draw[w3] (\k.east) -- ++(10,0) |- (d3.west);
\foreach \k in {d3da,d3db,d3dc,d3dd,d3de,d3df} \draw[w3] (\k.east) -- ++(11,0) |- (d3d.west);
\draw[w3] (d3ea.east) -- (d3e.west);
\foreach \k in {d3eaa,d3eab,d3eac,d3ead} \draw[w3] (\k.east) -- ++(11,0) |- (d3ea.west);
\foreach \k in {d3fa,d3fb,d3fc,d3fd,d3fe,d3ff,d3fg,d3fh} \draw[w3] (\k.east) -- ++(12,0) |- (d3f.west);
\draw[w3] (d3faa.east) -- (d3fa.west);
\foreach \k in {d3fba,d3fbb,d3fbc,d3fbd,d3fbe,d3fbf,d3fbg,d3fbh,d3fbi,d3fbj,d3fbk} \draw[w3] (\k.east) -- ++(11,0) |- (d3fb.west);
\draw[w3] (d3fda.east) -- (d3fd.west);
\draw[w3] (d3fea.east) -- (d3fe.west);
\foreach \k in {d3fga,d3fgb} \draw[w3] (\k.east) -- ++(12,0) |- (d3fg.west);
\draw[w3] (d3fha.east) -- (d3fh.west);
\draw[w3] (d3fhb.east) -- (d3fha.west);

\foreach \k in {d4a,d4b,d4c,d4d,d4e,d4f,d4g,d4h,d4i,d4j,d4k} \draw[w4] (\k.west) -- ++(-10,0) |- (d4.east);
\foreach \k in {d4ha,d4hb} \draw[w4] (\k.west) -- ++(-11,0) |- (d4h.east);
\foreach \k in {d4ia,d4ib,d4ic,d4id,d4ie,d4if,d4ig,d4ih} \draw[w4] (\k.west) -- ++(-12,0) |- (d4i.east);
\foreach \k in {d4ida,d4idb,d4idc,d4idd,d4ide,d4idf,d4idg,d4idh,d4idi,d4idj,d4idk} \draw[w4] (\k.west) -- ++(-10,0) |- (d4id.east);
\foreach \k in {d4iea,d4ieb,d4iec} \draw[w4] (\k.west) -- ++(-12,0) |- (d4ie.east);
\draw[w4] (d4ifa.west) -- (d4if.east);
\foreach \k in {d4iha,d4ihb,d4ihc,d4ihd,d4ihe,d4ihf} \draw[w4] (\k.west) -- ++(-10,0) |- (d4ih.east);
\foreach \k in {d4ja,d4jb} \draw[w4] (\k.west) -- ++(-11,0) |- (d4j.east);
\foreach \k in {d4ka,d4kb,d4kc,d4kd} \draw[w4] (\k.west) -- ++(-11,0) |- (d4k.east);

\foreach \k in {rla,rlb,rlc,rld,rle,rlf,rlg,rlh,rli,rlj} \draw[w6] (\k.west) -- ++(-11,0) |- (rl.east);

\foreach \k in {d5a,d5b,d5c,d5d,d5e,d5f,d5g,d5h,d5i} \draw[w5] (\k.east) -- ++(10,0) |- (d5.west);
\foreach \k in {d5ba,d5bb} \draw[w5] (\k.east) -- ++(11,0) |- (d5b.west);
\foreach \k in {d5ca,d5cb,d5cc,d5cd,d5ce,d5cf,d5cg} \draw[w5] (\k.east) -- ++(11,0) |- (d5c.west);
\foreach \k in {d5da,d5db,d5dc} \draw[w5] (\k.east) -- ++(11,0) |- (d5d.west);
\foreach \k in {d5daa,d5dab} \draw[w5] (\k.east) -- ++(11,0) |- (d5da.west);
\draw[w5] (d5daaa.east) -- (d5daa.west);
\foreach \k in {d5daba,d5dabb} \draw[w5] (\k.east) -- ++(11,0) |- (d5dab.west);
\foreach \k in {d5dca,d5dcb} \draw[w5] (\k.east) -- ++(11,0) |- (d5dc.west);
\foreach \k in {d5ea,d5eb,d5ec,d5ed,d5ee,d5ef} \draw[w5] (\k.east) -- ++(11,0) |- (d5e.west);
\foreach \k in {d5eba,d5ebb} \draw[w5] (\k.east) -- ++(11,0) |- (d5eb.west);
\draw[w5] (d5ebba.east) -- (d5ebb.west);
\foreach \k in {d5eca,d5ecb} \draw[w5] (\k.east) -- ++(11,0) |- (d5ec.west);
\foreach \k in {d5eda,d5edb,d5edc,d5edd} \draw[w5] (\k.east) -- ++(11,0) |- (d5ed.west);
\foreach \k in {d5eea,d5eeb} \draw[w5] (\k.east) -- ++(11,0) |- (d5ee.west);
\draw[w5] (d5efa.east) -- (d5ef.west);
\foreach \k in {d5fa,d5fb,d5fc} \draw[w5] (\k.east) -- ++(11,0) |- (d5f.west);
\draw[w5] (d5faa.east) -- (d5fa.west);
\foreach \k in {d5ga,d5gb,d5gc} \draw[w5] (\k.east) -- ++(11,0) |- (d5g.west);
\foreach \k in {d5ha,d5hb} \draw[w5] (\k.east) -- ++(11,0) |- (d5h.west);
\foreach \k in {d5hba,d5hbb,d5hbc,d5hbd,d5hbe,d5hbf} \draw[w5] (\k.east) -- ++(11,0) |- (d5hb.west);
\foreach \k in {d5ia,d5ib,d5ic} \draw[w5] (\k.east) -- ++(11,0) |- (d5i.west);
\end{pgfonlayer}
\end{tikzpicture}
\end{document}
